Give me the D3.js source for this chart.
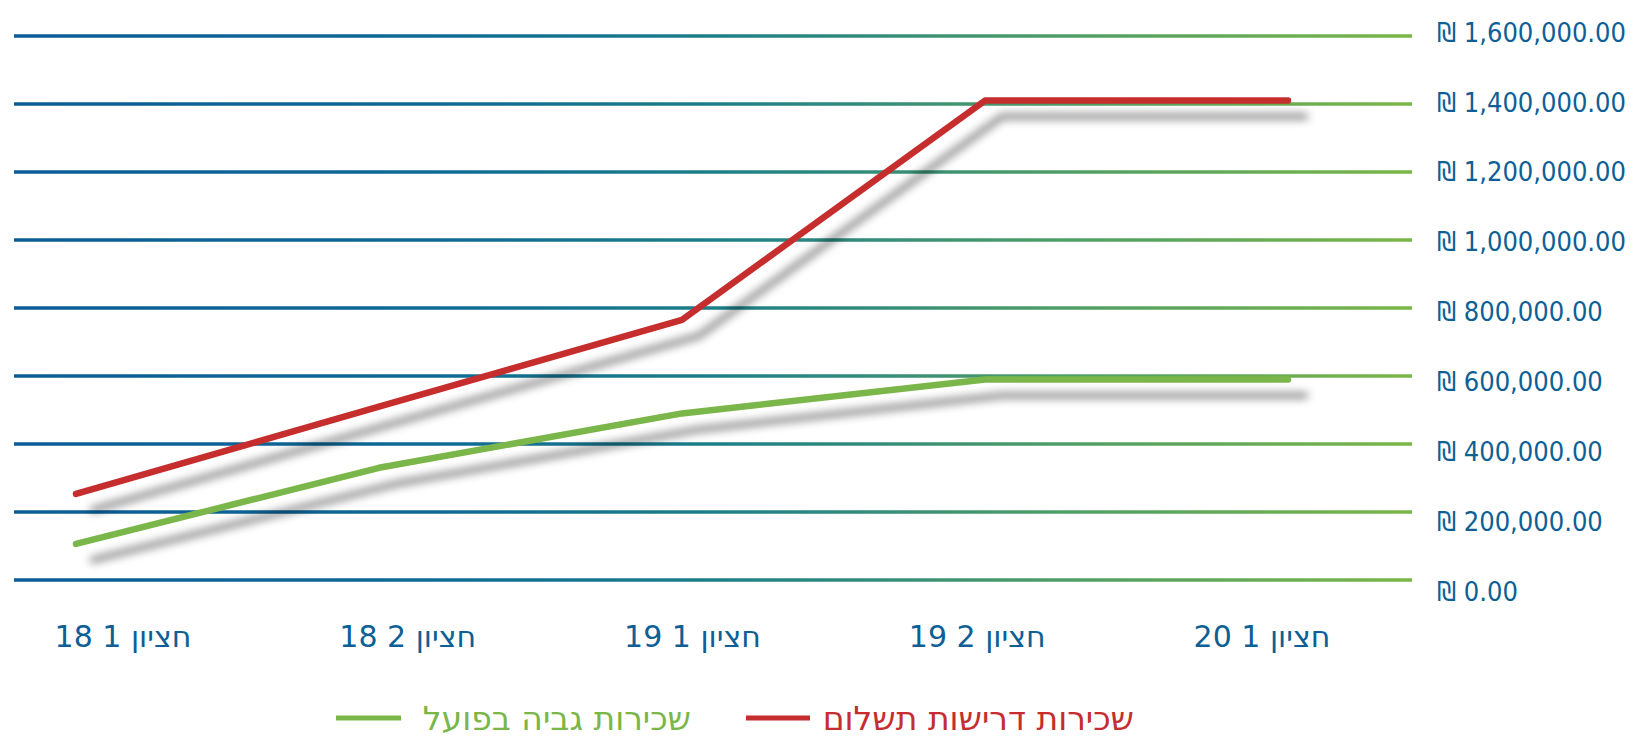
<!DOCTYPE html>
<html>
<head>
<meta charset="utf-8">
<script src="https://cdn.jsdelivr.net/npm/d3@7"></script>
<style>
    body { margin: 0; background: #fff; }
    text { font-family: "DejaVu Sans Condensed", "DejaVu Sans", sans-serif; font-stretch: condensed; }
    text.heb { font-family: "DejaVu Sans", sans-serif; font-stretch: normal; }
</style>
</head>
<body>
<script>
// half-year periods (Hebrew labels)
var categories = ["חציון 1 18", "חציון 2 18", "חציון 1 19", "חציון 2 19", "חציון 1 20"];

// rent billed vs rent actually collected
var rentBilled = [253000, 510000, 765000, 1410000, 1410000];
var rentCollected = [106000, 330000, 490000, 590000, 590000];

var yTicks = [0, 200000, 400000, 600000, 800000, 1000000, 1200000, 1400000, 1600000];

var legendLabels = ["שכירות דרישות תשלום", "שכירות גביה בפועל"];

var width = 1634,
    height = 737;

var svg = d3.select("body")
    .append("svg")
    .attr("width", width)
    .attr("height", height);

var defs = svg.append("defs");

// gridline colour runs from blue on the left to green on the right
var grad = defs.append("linearGradient")
    .attr("id", "gridGrad")
    .attr("gradientUnits", "userSpaceOnUse")
    .attr("x1", 14).attr("x2", 1412)
    .attr("y1", 0).attr("y2", 0);
[[0, "#0b5b98"], [0.3, "#0e6a94"], [0.5, "#1c7e89"], [0.75, "#4f9d66"], [1, "#7ab648"]]
    .forEach(function(s){
        grad.append("stop").attr("offset", s[0]).attr("stop-color", s[1]);
    });

// soft drop shadow under the lines
var shadow = defs.append("filter")
    .attr("id", "shadow")
    .attr("x", "-10%").attr("y", "-10%")
    .attr("width", "130%").attr("height", "140%");
shadow.append("feDropShadow")
    .attr("dx", 17)
    .attr("dy", 16)
    .attr("stdDeviation", 4.5)
    .attr("flood-color", "#000")
    .attr("flood-opacity", 0.45);

var y = d3.scaleLinear()
    .domain([0, 1600000])
    .range([580, 36]);

// tick labels sit on a slightly looser spacing than the gridlines
var yLabel = d3.scaleLinear()
    .domain([0, 1600000])
    .range([591, 32]);

// points and category labels
var x = d3.scalePoint()
    .domain(categories)
    .range([76, 1288]);

var xLabel = d3.scalePoint()
    .domain(categories)
    .range([123, 1262]);

var fmt = d3.format(",.2f");

//gridlines
svg.selectAll(".grid")
    .data(yTicks)
    .enter()
    .append("line")
    .attr("class", "grid")
    .attr("x1", 14)
    .attr("x2", 1412)
    .attr("y1", function(d){ return y(d); })
    .attr("y2", function(d){ return y(d) + 0.01; })
    .attr("stroke", "url(#gridGrad)")
    .attr("stroke-width", 3.5);

//y labels
svg.selectAll(".ylab")
    .data(yTicks)
    .enter()
    .append("text")
    .attr("class", "ylab")
    .attr("x", 1437)
    .attr("y", function(d){ return yLabel(d); })
    .attr("dy", "0.36em")
    .attr("fill", "#0d5f95")
    .style("font-size", "27px")
    .text(function(d){ return "₪ " + fmt(d); });

//x labels
svg.selectAll(".xlab")
    .data(categories)
    .enter()
    .append("text")
    .attr("class", "xlab heb")
    .attr("x", function(d){ return xLabel(d); })
    .attr("y", 647)
    .attr("text-anchor", "middle")
    .attr("fill", "#0d5f95")
    .style("font-size", "30px")
    .text(function(d){ return d; });

var line = d3.line()
    .x(function(d, i){ return x(categories[i]); })
    .y(function(d){ return y(d); });

var series = [
    {values: rentCollected, color: "#7ab648"},
    {values: rentBilled, color: "#c62d2f"}
];

svg.selectAll(".series")
    .data(series)
    .enter()
    .append("path")
    .attr("class", "series")
    .attr("d", function(d){ return line(d.values); })
    .attr("fill", "none")
    .attr("stroke", function(d){ return d.color; })
    .attr("stroke-width", 6.5)
    .attr("stroke-linecap", "round")
    .attr("stroke-linejoin", "round")
    .attr("filter", "url(#shadow)");

//legend, read right to left: red item then green item
var legendItems = [
    {label: legendLabels[0], color: "#c62d2f", textRight: 1134, lineX1: 746, lineX2: 810},
    {label: legendLabels[1], color: "#7ab648", textRight: 691, lineX1: 336, lineX2: 401}
];

var legend = svg.selectAll(".legend")
    .data(legendItems)
    .enter()
    .append("g")
    .attr("class", "legend");

legend.append("line")
    .attr("x1", function(d){ return d.lineX1; })
    .attr("x2", function(d){ return d.lineX2; })
    .attr("y1", 718)
    .attr("y2", 718)
    .attr("stroke", function(d){ return d.color; })
    .attr("stroke-width", 5);

legend.append("text")
    .attr("class", "heb")
    .attr("x", function(d){ return d.textRight; })
    .attr("y", 730)
    .attr("text-anchor", "end")
    .attr("fill", function(d){ return d.color; })
    .style("font-size", "33px")
    .text(function(d){ return d.label; });
</script>
</body>
</html>
